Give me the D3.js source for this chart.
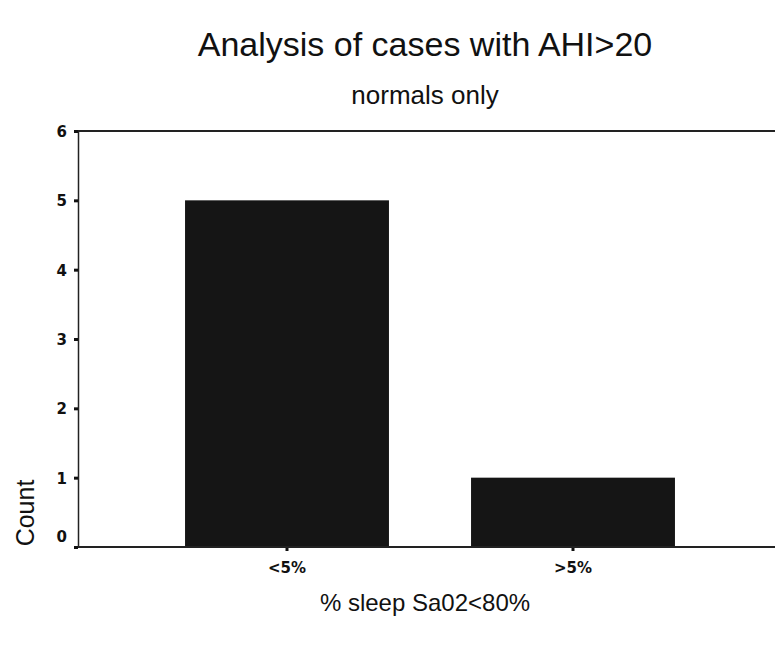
<!DOCTYPE html>
<html>
<head>
<meta charset="utf-8">
<script src="https://cdn.jsdelivr.net/npm/d3@7"></script>
<style>
  body { margin: 0; background: #fff; }
  svg { display: block; font-family: Arial, "Liberation Sans", sans-serif; }
</style>
</head>
<body>
<div id="chart"></div>
<script>
// --------------------------------------
//  Data
// --------------------------------------

const categories = ["<5%", ">5%"];
const counts = [5, 1];
const yTicks = [0, 1, 2, 3, 4, 5, 6];

// --------------------------------------
//  Margin and canvas
// --------------------------------------

const margin = {top: 131, right: 0, bottom: 100, left: 78};
const width = 775;
const height = 647;
const innerwidth = width - margin.left - margin.right;
const innerheight = 547 - margin.top;

const svg = d3.select("#chart")
  .append("svg")
    .attr("width", width)
    .attr("height", height);

const innerChart = svg
  .append("g")
    .attr("transform", `translate(${margin.left}, ${margin.top})`);

// --------------------------------------
//  Scales
// --------------------------------------

let x = d3.scaleBand()
    .domain(categories)
    .range([66, 638])
    .paddingInner(0.287)
    .paddingOuter(0.1435);

let y = d3.scaleLinear()
    .domain([0, 6])
    .range([innerheight, 0]);

// --------------------------------------
//  Bars
// --------------------------------------

innerChart.append("g")
  .selectAll("rect")
  .data(categories)
  .join("rect")
    .attr("x", d => x(d))
    .attr("width", x.bandwidth())
    .attr("y", (d, i) => y(counts[i]))
    .attr("height", (d, i) => y(0) - y(counts[i]))
    .attr("fill", "#151515");

// --------------------------------------
//  Axes
// --------------------------------------

const yAxis = innerChart.append("g")
    .call(d3.axisLeft(y)
      .tickValues(yTicks)
      .tickSize(4)
      .tickSizeOuter(0)
      .tickPadding(7)
      .tickFormat(d3.format("d")));

yAxis.select(".domain").attr("stroke", "#222").attr("stroke-width", 1.5);
yAxis.selectAll(".tick line").attr("stroke", "#111").attr("stroke-width", 3);
yAxis.selectAll(".tick text")
    .attr("font-family", "'DejaVu Sans', sans-serif")
    .attr("font-size", 15)
    .attr("font-weight", "bold")
    .attr("fill", "#111")
    .attr("dy", d => d === 0 ? "-0.4em" : "0.36em");

const xAxis = innerChart.append("g")
    .attr("transform", `translate(0, ${innerheight})`)
    .call(d3.axisBottom(x)
      .tickSize(4)
      .tickSizeOuter(0)
      .tickPadding(11));

xAxis.select(".domain").remove();
xAxis.selectAll(".tick line").attr("stroke", "#111").attr("stroke-width", 3);
xAxis.selectAll(".tick text")
    .attr("font-family", "'DejaVu Sans', sans-serif")
    .attr("font-size", 15)
    .attr("font-weight", "bold")
    .attr("fill", "#111");

// frame lines: bottom and top
innerChart.append("line")
    .attr("x1", 0).attr("x2", innerwidth)
    .attr("y1", innerheight).attr("y2", innerheight)
    .attr("stroke", "#222").attr("stroke-width", 2);

innerChart.append("line")
    .attr("x1", 0).attr("x2", innerwidth)
    .attr("y1", 0).attr("y2", 0)
    .attr("stroke", "#222").attr("stroke-width", 2);

// --------------------------------------
//  Titles
// --------------------------------------

svg.append("text")
    .attr("x", 425).attr("y", 56)
    .attr("text-anchor", "middle")
    .attr("font-size", 34)
    .attr("fill", "#111")
    .text("Analysis of cases with AHI>20");

svg.append("text")
    .attr("x", 425).attr("y", 104)
    .attr("text-anchor", "middle")
    .attr("font-size", 26)
    .attr("fill", "#111")
    .text("normals only");

svg.append("text")
    .attr("x", 425).attr("y", 611)
    .attr("text-anchor", "middle")
    .attr("font-size", 24)
    .attr("fill", "#111")
    .text("% sleep Sa02<80%");

svg.append("text")
    .attr("transform", "translate(34, 513) rotate(-90)")
    .attr("text-anchor", "middle")
    .attr("font-size", 25)
    .attr("fill", "#111")
    .text("Count");
</script>
</body>
</html>
